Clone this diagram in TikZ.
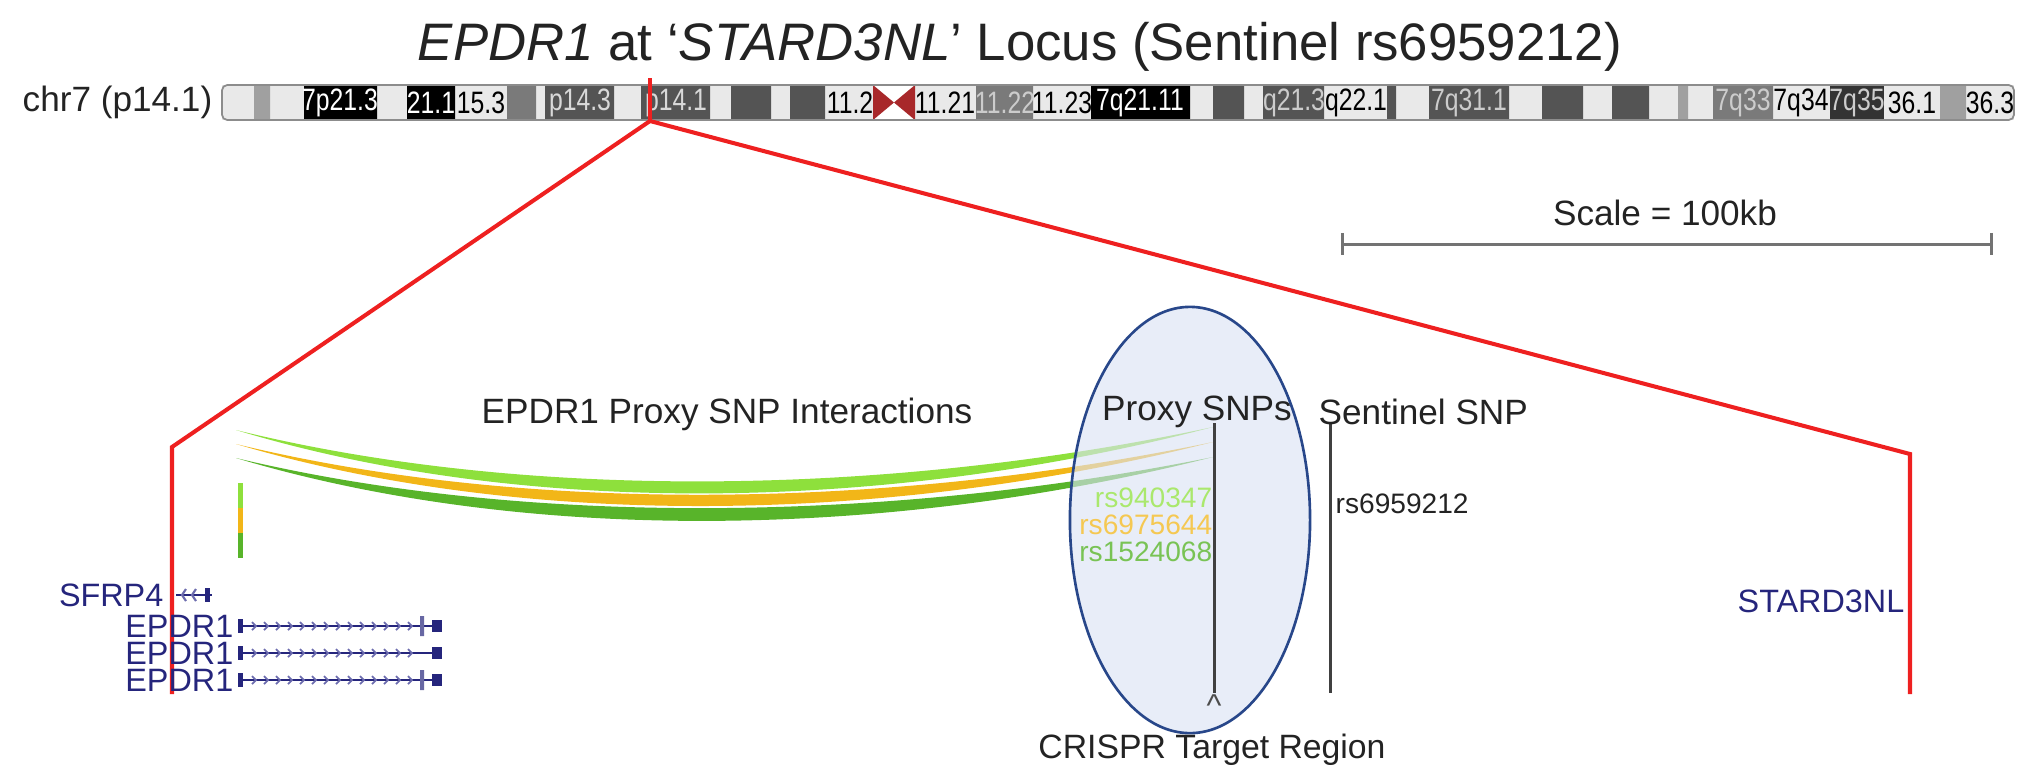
\documentclass[tikz,border=0pt]{standalone}
\usepackage{fontspec}
\setmainfont{Liberation Sans}
\newfontfamily\bandfont[FakeStretch=0.8]{Liberation Sans}
\usetikzlibrary{shapes.geometric}

\definecolor{bandlight}{HTML}{E9E9E9}
\definecolor{bandgrey}{HTML}{A0A0A0}
\definecolor{bandmid}{HTML}{7A7A7A}
\definecolor{banddark}{HTML}{545454}
\definecolor{cenred}{HTML}{A8282A}
\definecolor{zoomred}{HTML}{EE2020}
\definecolor{genenavy}{HTML}{25257C}
\definecolor{genechev}{HTML}{6C6CAE}
\definecolor{snplime}{HTML}{8EE03C}
\definecolor{snporange}{HTML}{F2B618}
\definecolor{snpgreen}{HTML}{58B42A}
\definecolor{targetfill}{HTML}{DAE2F3}
\definecolor{targetedge}{HTML}{28478A}
\definecolor{textgrey}{HTML}{232323}

\tikzset{
  titletext/.style={font=\fontsize{15}{18}\selectfont, text=textgrey, inner sep=0pt},
  bodytext/.style={font=\fontsize{10}{12}\selectfont, text=textgrey, inner sep=0pt},
  bandlabel/.style={font=\bandfont\fontsize{8.8}{9}\selectfont, inner sep=0pt},
  snptext/.style={font=\fontsize{8}{9}\selectfont, inner sep=0pt},
  genetext/.style={font=\fontsize{9.2}{10}\selectfont, text=genenavy, inner sep=0pt},
  zoomline/.style={zoomred, line width=1.15pt},
  snpline/.style={draw=black!75, line width=0.85pt},
  scalebar/.style={draw=black!55, line width=0.85pt},
}

\begin{document}
\begin{tikzpicture}[x=0.01cm, y=-0.01cm]
\useasboundingbox (0,0) rectangle (2026,775);

% title
\node[titletext] (title) at (1020,47)
    {\textit{EPDR1} at ‘\textit{STARD3NL}’ Locus (Sentinel rs6959212)};

% chromosome 7 ideogram
\node[bodytext, anchor=east] (chrom) at (213,102) {chr7 (p14.1)};
    \fill[bandlight] (222,85) rectangle (2014,120);
    \fill[white] (873,85) rectangle (915,120);
    \fill[bandgrey] (254,85) rectangle (270,120) (1678,85) rectangle (1688,120)
        (1940,85) rectangle (1966,120);
    \fill[bandmid] (507,85) rectangle (536,120) (976,85) rectangle (1033,120)
        (1713,85) rectangle (1773,120);
    \fill[banddark] (545,85) rectangle (614,120) (641,85) rectangle (710,120)
        (731,85) rectangle (771,120) (790,85) rectangle (825,120)
        (1213,85) rectangle (1244,120) (1263,85) rectangle (1324,120)
        (1387,85) rectangle (1396,120) (1429,85) rectangle (1509,120)
        (1542,85) rectangle (1583,120) (1612,85) rectangle (1649,120);
    \fill[black!80] (1830,85) rectangle (1884,120);
    \fill[black] (304,85) rectangle (377,120) (407,85) rectangle (455,120)
        (1091,85) rectangle (1190,120);
% centromere
    \fill[cenred] (873,85) -- (894,102.5) -- (873,120) -- cycle
        (915,85) -- (894,102.5) -- (915,120) -- cycle;
    \draw[black!45, line width=0.5pt, rounded corners=1.5pt] (222,85) rectangle (2014,120);
% band labels
    \draw   (340,103) node[bandlabel, text=white] (p213) {7p21.3}
            (431,103) node[bandlabel, text=white] (p211) {21.1}
            (481,103) node[bandlabel] (p153) {15.3}
            (580,103) node[bandlabel, text=white!85!black] (p143) {p14.3}
            (676,103) node[bandlabel, text=white!85!black] (p141) {p14.1}
            (850,103) node[bandlabel] (p112) {11.2}
            (945,103) node[bandlabel] (q1121) {11.21}
            (1005,103) node[bandlabel, text=white!80!black] (q1122) {11.22}
            (1062,103) node[bandlabel] (q1123) {11.23}
            (1140,103) node[bandlabel, text=white] (q2111) {7q21.11}
            (1294,103) node[bandlabel, text=white!80!black] (q213) {q21.3}
            (1356,103) node[bandlabel] (q221) {q22.1}
            (1469,103) node[bandlabel, text=white!80!black] (q311) {7q31.1}
            (1743,103) node[bandlabel, text=white!80!black] (q33) {7q33}
            (1801,103) node[bandlabel] (q34) {7q34}
            (1857,103) node[bandlabel, text=white!80!black] (q35) {7q35}
            (1912,103) node[bandlabel] (q361) {36.1}
            (1990,103) node[bandlabel] (q363) {36.3};

% zoom from p14.1 down to the locus
    \coordinate (mark top) at (650,78);
    \coordinate (mark) at (650,121);
    \coordinate (left corner) at (172,447);
    \coordinate (left foot) at (172,694);
    \coordinate (right corner) at (1910,454);
    \coordinate (right foot) at (1910,694);
    \draw[zoomline] (mark top) -- (mark);
    \draw[zoomline] (left foot) -- (left corner) -- (mark) -- (right corner) -- (right foot);

% scale bar
    \coordinate (scale left) at (1342,244);
    \coordinate (scale right) at (1991,244);
    \draw[scalebar] (scale left) -- (scale right);
    \draw[scalebar] ([yshift=3.2pt]scale left) -- ([yshift=-3.2pt]scale left)
        ([yshift=3.2pt]scale right) -- ([yshift=-3.2pt]scale right);
    \node[bodytext] (scale) at (1665,213) {Scale = 100kb};

% interaction arcs
    \node[bodytext] (arcs) at (727,414) {EPDR1 Proxy SNP Interactions};
    \fill[snplime] (236,430) .. controls (520,500) and (880,498) .. (1213,427)
        .. controls (880,514) and (520,516) .. (236,430) -- cycle;
    \fill[snporange] (236,444) .. controls (520,513) and (880,511) .. (1213,442)
        .. controls (880,526) and (520,528) .. (236,444) -- cycle;
    \fill[snpgreen] (236,458) .. controls (520,526) and (880,524) .. (1213,457)
        .. controls (880,541) and (520,543) .. (236,458) -- cycle;
% anchor ends at EPDR1
    \fill[snplime] (238,483) rectangle (243,508);
    \fill[snporange] (238,508) rectangle (243,533);
    \fill[snpgreen] (238,533) rectangle (243,558);

% CRISPR target
    \node[ellipse, fill=targetfill, fill opacity=0.62, draw=targetedge, line width=0.75pt,
        minimum width=2.4cm, minimum height=4.26cm] (target) at (1190,520) {};

% proxy SNP names
    \draw   (1213,498) node[snptext, anchor=east, text=snplime!75!white] (rs940347) {rs940347}
            (1213,525) node[snptext, anchor=east, text=snporange!75!white] (rs6975644) {rs6975644}
            (1213,552) node[snptext, anchor=east, text=snpgreen!80!white] (rs1524068) {rs1524068};

    \coordinate (proxy top) at (1214,423);
    \coordinate (proxy foot) at (1214,693);
    \draw[snpline] (proxy top) -- (proxy foot);
    \node[bodytext] (proxy) at (1197,412) {Proxy SNPs};
    \node[bodytext, font=\fontsize{9}{10}\selectfont, text=black!70] (caret) at (1214,706) {\textasciicircum};
    \node[bodytext, font=\fontsize{9.6}{11}\selectfont] (crispr) at (1212,750) {CRISPR Target Region};

% sentinel SNP
    \coordinate (sentinel top) at (1330,423);
    \coordinate (sentinel foot) at (1330,693);
    \draw[snpline] (sentinel top) -- (sentinel foot);
    \node[bodytext, anchor=west] (sentinel) at (1318,412) {Sentinel SNP};
    \node[snptext, text=textgrey, anchor=west] (rs6959212) at (1335,504) {rs6959212};

% genes
    \node[genetext, anchor=east] (sfrp4) at (164,595) {SFRP4};
    \draw[genenavy, line width=0.6pt] (176,595) -- (212,595);
    \draw[genechev, line width=0.6pt] (186,589) -- (182,595) -- (186,601)
        (196,589) -- (192,595) -- (196,601);
    \fill[genenavy] (205,588) rectangle (210,602);
    \draw   (234,626) node[genetext, anchor=east] (epdr1a) {EPDR1}
            (234,653) node[genetext, anchor=east] (epdr1b) {EPDR1}
            (234,680) node[genetext, anchor=east] (epdr1c) {EPDR1};
    \foreach \y in {626,653,680} {
        \fill[genenavy] (238,\y-7) rectangle (243,\y+7);
        \draw[genenavy, line width=0.7pt] (243,\y) -- (438,\y);
        \foreach \x in {254,266,...,410}
            \draw[genechev, line width=0.5pt] (\x-2,\y-4) -- (\x+2,\y) -- (\x-2,\y+4);
        \fill[genenavy] (432,\y-6) rectangle (442,\y+6);
    }
    \fill[genenavy!70] (420,616) rectangle (424,636) (420,670) rectangle (424,690);
    \node[genetext, anchor=east] (stard3nl) at (1905,601) {STARD3NL};

\end{tikzpicture}
\end{document}
